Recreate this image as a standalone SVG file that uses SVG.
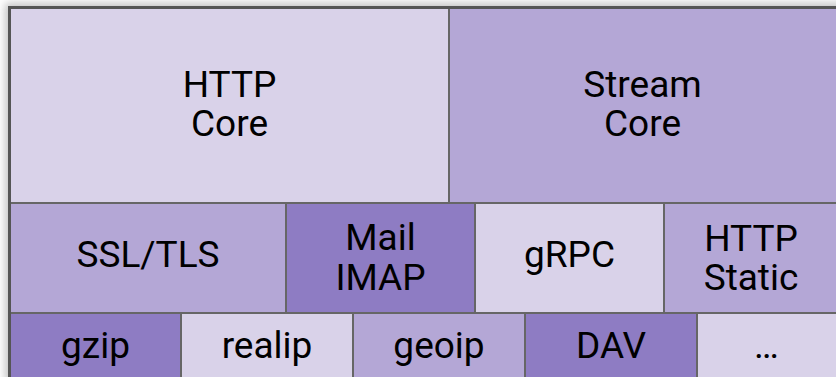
<svg xmlns="http://www.w3.org/2000/svg" width="836" height="377" viewBox="0 0 836 377">
<defs>
<filter id="sh" x="-5%" y="-5%" width="110%" height="110%">
<feGaussianBlur stdDeviation="4"/>
</filter>
<style>
.l{fill:#d9d2e9}
.m{fill:#b4a7d6}
.d{fill:#8e7cc3}
.b{stroke:#666;stroke-width:2}
text{font-family:Roboto,"Liberation Sans",sans-serif;font-size:37px;fill:#000;text-anchor:middle}
</style>
</defs>
<rect width="836" height="377" fill="#ffffff"/>
<rect x="5" y="3" width="840" height="380" fill="#9a9a9a" opacity="0.6" filter="url(#sh)"/>
<g id="http-core"><rect class="l b" x="10" y="8" width="439" height="195"/><text x="229.5" y="97">HTTP</text><text x="229.5" y="136">Core</text></g>
<g id="stream-core"><rect class="m b" x="449" y="8" width="390" height="195"/><text x="642.5" y="97">Stream</text><text x="642.5" y="136">Core</text></g>
<g id="ssl-tls"><rect class="m b" x="10" y="203" width="276" height="110"/><text x="148" y="267">SSL/TLS</text></g>
<g id="mail-imap"><rect class="d b" x="286" y="203" width="189" height="110"/><text x="380.5" y="250">Mail</text><text x="380.5" y="290">IMAP</text></g>
<g id="grpc"><rect class="l b" x="475" y="203" width="189" height="110"/><text x="569.5" y="267">gRPC</text></g>
<g id="http-static"><rect class="m b" x="664" y="203" width="175" height="110"/><text x="751" y="251">HTTP</text><text x="751" y="290">Static</text></g>
<g id="gzip"><rect class="d b" x="10" y="313" width="171" height="70"/><text x="95.5" y="358">gzip</text></g>
<g id="realip"><rect class="l b" x="181" y="313" width="172" height="70"/><text x="267" y="358">realip</text></g>
<g id="geoip"><rect class="m b" x="353" y="313" width="172" height="70"/><text x="439" y="358">geoip</text></g>
<g id="dav"><rect class="d b" x="525" y="313" width="172" height="70"/><text x="611" y="358">DAV</text></g>
<g id="more"><rect class="l b" x="697" y="313" width="142" height="70"/><text x="766.5" y="358">…</text></g>
<g id="connectors"/>
<rect x="9.5" y="7.5" width="830" height="375" fill="none" stroke="#555" stroke-width="3"/>
</svg>
